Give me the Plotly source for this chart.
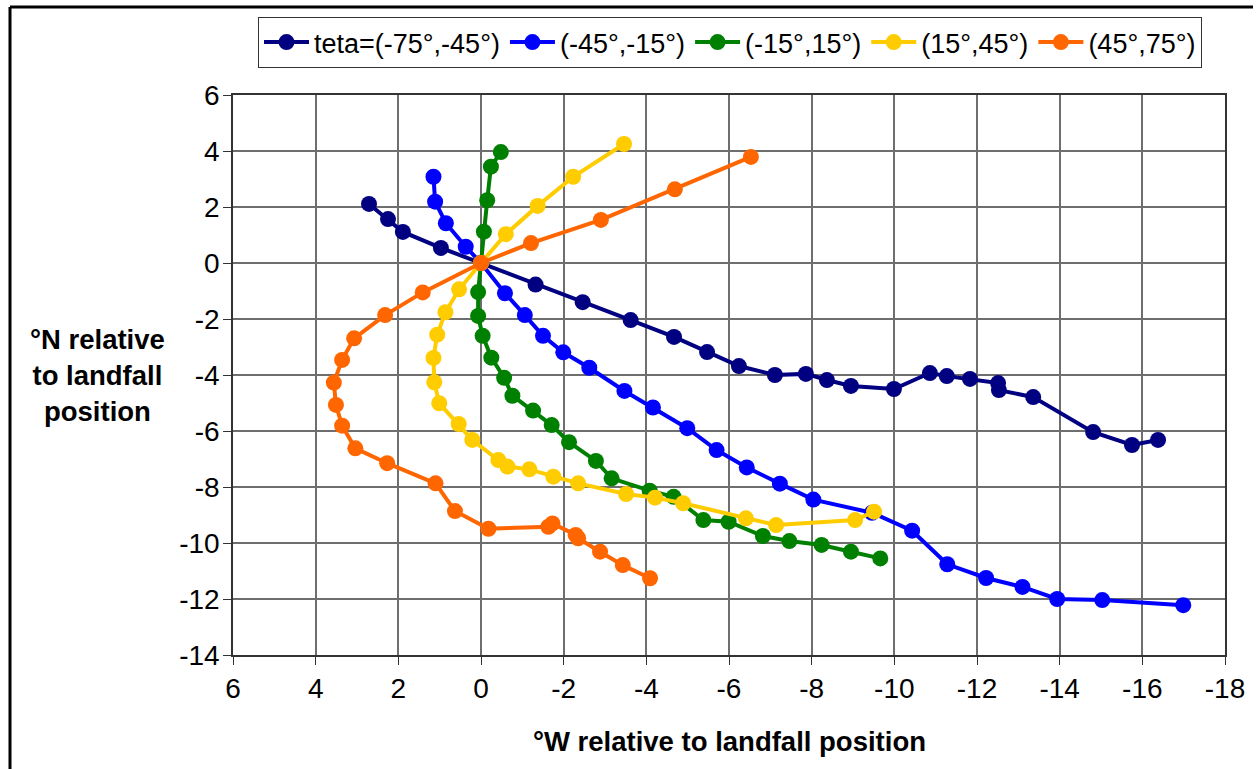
import plotly.graph_objects as go

# Track offsets (degrees) relative to landfall position, grouped by approach angle
series_names = ["teta=(-75°,-45°)", "(-45°,-15°)", "(-15°,15°)", "(15°,45°)", "(45°,75°)"]
series_colors = ["#000080", "#0000FF", "#008000", "#FFCC00", "#FF6600"]

navy_x = [2.71, 2.25, 1.89, 0.97, 0, -1.32, -2.46, -3.62, -4.67, -5.47, -6.24, -7.11, -7.86,
          -8.37, -8.95, -9.99, -10.86, -11.27, -11.83, -12.51, -12.53, -13.36, -14.81, -15.75, -16.38]
navy_y = [2.11, 1.57, 1.11, 0.54, 0, -0.77, -1.40, -2.04, -2.64, -3.18, -3.68, -4.0, -3.96,
          -4.18, -4.39, -4.5, -3.93, -4.04, -4.14, -4.29, -4.54, -4.79, -6.04, -6.5, -6.32]

blue_x = [1.15, 1.11, 0.85, 0.37, 0, -0.58, -1.06, -1.50, -1.99, -2.62, -3.47, -4.16, -4.99,
          -5.70, -6.43, -7.23, -8.04, -9.46, -10.43, -11.28, -12.22, -13.10, -13.94, -15.03, -16.99]
blue_y = [3.08, 2.19, 1.42, 0.58, 0, -1.08, -1.86, -2.6, -3.19, -3.74, -4.57, -5.16, -5.9,
          -6.68, -7.3, -7.88, -8.45, -8.92, -9.56, -10.76, -11.25, -11.57, -12.0, -12.04, -12.22]

green_x = [-0.48, -0.24, -0.15, -0.07, 0, 0.07, 0.07, -0.04, -0.25, -0.56, -0.76, -1.26, -1.71,
           -2.13, -2.78, -3.16, -4.08, -4.66, -5.38, -5.99, -6.82, -7.46, -8.24, -8.95, -9.66]
green_y = [3.96, 3.44, 2.24, 1.12, 0, -1.04, -1.89, -2.6, -3.38, -4.1, -4.74, -5.27, -5.79,
           -6.4, -7.07, -7.69, -8.13, -8.35, -9.18, -9.24, -9.75, -9.93, -10.07, -10.31, -10.55]

yellow_x = [-3.46, -2.23, -1.37, -0.6, 0, 0.53, 0.86, 1.06, 1.15, 1.13, 1.01, 0.54, 0.21,
            -0.42, -0.64, -1.17, -1.75, -2.35, -3.51, -4.21, -4.89, -6.41, -7.14, -9.05, -9.51]
yellow_y = [4.25, 3.08, 2.04, 1.03, 0, -0.94, -1.76, -2.56, -3.39, -4.26, -5.01, -5.75, -6.32,
            -7.04, -7.27, -7.37, -7.63, -7.87, -8.25, -8.38, -8.58, -9.12, -9.36, -9.18, -8.88]

orange_x = [-6.53, -4.69, -2.9, -1.21, 0, 1.41, 2.32, 3.07, 3.36, 3.56, 3.51, 3.36, 3.04,
            2.27, 1.1, 0.63, -0.18, -1.63, -1.73, -2.29, -2.35, -2.88, -3.43, -4.09]
orange_y = [3.79, 2.63, 1.54, 0.71, 0, -1.05, -1.86, -2.69, -3.46, -4.27, -5.07, -5.81, -6.62,
            -7.15, -7.87, -8.86, -9.49, -9.42, -9.30, -9.71, -9.83, -10.31, -10.79, -11.26]

x_ticks = list(range(6, -19, -2))
y_ticks = list(range(6, -15, -2))

all_x = [navy_x, blue_x, green_x, yellow_x, orange_x]
all_y = [navy_y, blue_y, green_y, yellow_y, orange_y]

FONT = "Liberation Sans, Arial, sans-serif"
PLOT_L, PLOT_R, PLOT_T, PLOT_B = 233, 1225, 95, 655
PW, PH = PLOT_R - PLOT_L, PLOT_B - PLOT_T


def px_x(px):
    return (px - PLOT_L) / PW


def px_y(py):
    return (PLOT_B - py) / PH


fig = go.Figure()
for name, color, xs, ys in zip(series_names, series_colors, all_x, all_y):
    fig.add_trace(go.Scatter(
        x=xs, y=ys, name=name, mode="lines+markers",
        line=dict(color=color, width=4),
        marker=dict(color=color, size=16),
    ))

axis_common = dict(
    showgrid=True, gridcolor="#6e6e6e", gridwidth=1.5,
    zeroline=False,
    showline=True, linecolor="#333333", linewidth=1.5, mirror=True,
    ticks="outside", ticklen=8, tickcolor="#333333", tickwidth=1,
    tickfont=dict(family=FONT, size=28, color="black"),
)

fig.update_xaxes(range=[6, -18], tickvals=x_ticks, ticktext=[str(v) for v in x_ticks],
                 **axis_common)
fig.update_yaxes(range=[-14, 6], tickvals=y_ticks, ticktext=[str(v) for v in y_ticks],
                 ticklabelstandoff=-2, **axis_common)

fig.add_annotation(
    text="<b>°W relative to landfall position</b>",
    xref="paper", yref="paper", x=px_x(729), y=px_y(741),
    xanchor="center", yanchor="middle", showarrow=False,
    font=dict(family=FONT, size=27.5, color="black"),
)
fig.add_annotation(
    text="<b>°N relative<br>to landfall<br>position</b>",
    xref="paper", yref="paper", x=px_x(97), y=px_y(375),
    xanchor="center", yanchor="middle", showarrow=False, align="center",
    font=dict(family=FONT, size=27.5, color="black"),
)

# Outer frame of the chart area (top and left edges)
fig.add_shape(type="line", xref="paper", yref="paper",
              x0=px_x(10), x1=px_x(1253), y0=px_y(7), y1=px_y(7),
              line=dict(color="black", width=3))
fig.add_shape(type="line", xref="paper", yref="paper",
              x0=px_x(10), x1=px_x(10), y0=px_y(7), y1=px_y(775),
              line=dict(color="black", width=3))

fig.update_layout(
    width=1257, height=769,
    margin=dict(l=PLOT_L, r=1257 - PLOT_R, t=PLOT_T, b=769 - PLOT_B),
    paper_bgcolor="white", plot_bgcolor="white",
    font=dict(family=FONT, size=27, color="black"),
    showlegend=True,
    legend=dict(
        orientation="h", x=px_x(730), xanchor="center",
        y=1 + (PLOT_T - 17) / PH, yanchor="top",
        bordercolor="#333333", borderwidth=1, bgcolor="white",
        font=dict(family=FONT, size=27, color="black"),
        itemsizing="trace", itemwidth=45, tracegroupgap=0,
    ),
)

fig.write_html("out.html")
